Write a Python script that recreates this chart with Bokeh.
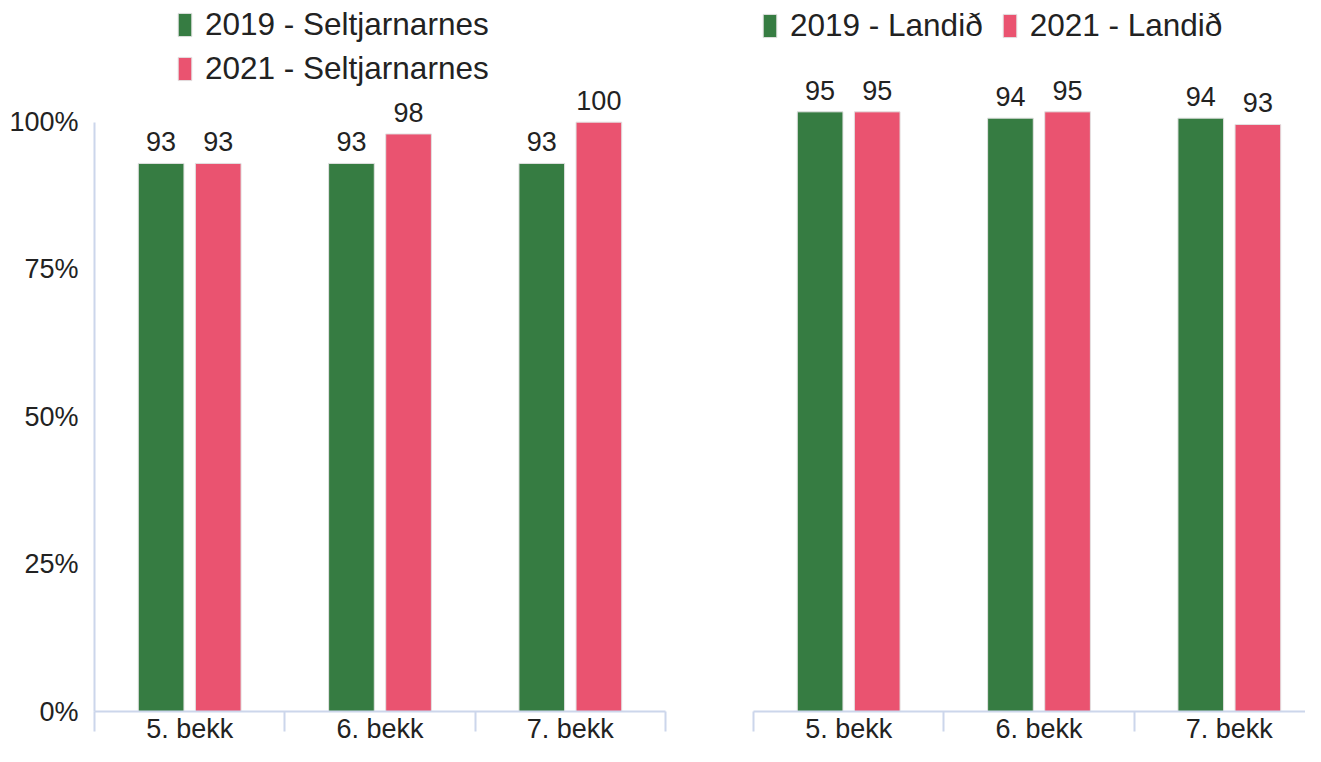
from bokeh.plotting import figure
from bokeh.models import (ColumnDataSource, Range1d, FixedTicker, LabelSet,
                          Legend, LegendItem)
from bokeh.core.properties import value
from bokeh.layouts import row
from bokeh.embed import file_html
from bokeh.resources import INLINE

# ---- data ----
categories = ["5. bekk", "6. bekk", "7. bekk"]
sel_2019 = [93, 93, 93]
sel_2021 = [93, 98, 100]
land_2019 = [95, 94, 94]
land_2021 = [95, 95, 93]
legend_left = ["2019 - Seltjarnarnes", "2021 - Seltjarnarnes"]
legend_right = ["2019 - Landið", "2021 - Landið"]
y_ticks = [0, 25, 50, 75, 100]
y_tick_labels = ["0%", "25%", "50%", "75%", "100%"]

GREEN = "#367C42"
RED = "#EA5370"
AXIS = "#ccd6eb"
TEXT = "#222222"
FONT = "Liberation Sans"
H = 746
BORDER_BOTTOM = 33
B = H - BORDER_BOTTOM          # frame bottom (screen px); frame top is 0
LEFT_TOP100 = 122               # where 100% sits in the left panel
RIGHT_TOP100 = 80               # where 100% sits in the right panel
CAT_PX = 571 / 3.0


def make_panel(width, border_left, x_end, top100, v2019, v2021, labels,
               show_y, legend_vertical, legend_loc):
    y_end = 100.0 * B / (B - top100)
    p = figure(width=width, height=H, output_backend="svg",
               toolbar_location=None, x_range=Range1d(0, x_end),
               y_range=Range1d(0, y_end),
               y_axis_location="left" if show_y else None,
               min_border_left=border_left,
               min_border_right=width - border_left - int(round(x_end * CAT_PX)),
               min_border_top=0, min_border_bottom=BORDER_BOTTOM)
    p.outline_line_color = None
    p.grid.visible = False
    p.background_fill_color = "white"
    p.border_fill_color = "white"

    centers = [i + 0.5 for i in range(len(categories))]
    src = ColumnDataSource(dict(
        x19=[c - 0.15 for c in centers], x21=[c + 0.15 for c in centers],
        v19=v2019, v21=v2021,
        t19=[str(v) for v in v2019], t21=[str(v) for v in v2021]))
    r1 = p.vbar(x="x19", top="v19", width=0.24, bottom=0, source=src,
                fill_color=GREEN, line_color="#e2e2e2", line_width=1)
    r2 = p.vbar(x="x21", top="v21", width=0.24, bottom=0, source=src,
                fill_color=RED, line_color="#e2e2e2", line_width=1)

    for xc, yc, tc in (("x19", "v19", "t19"), ("x21", "v21", "t21")):
        p.add_layout(LabelSet(x=xc, y=yc, text=tc, source=src, y_offset=12,
                              text_align="center", text_baseline="alphabetic",
                              text_font=value(FONT), text_font_size="27px",
                              text_color=TEXT))

    # x axis: labels at centres, category separators as minor ticks
    xa = p.xaxis[0]
    xa.ticker = FixedTicker(ticks=centers, minor_ticks=[0, 1, 2, 3])
    xa.major_label_overrides = {c: lab for c, lab in zip(centers, categories)}
    xa.major_tick_line_color = None
    xa.major_tick_out = 0
    xa.major_tick_in = 0
    xa.minor_tick_line_color = AXIS
    xa.minor_tick_line_width = 2
    xa.minor_tick_out = 20
    xa.minor_tick_in = 0
    xa.axis_line_color = AXIS
    xa.axis_line_width = 2
    xa.major_label_standoff = -18
    xa.major_label_text_font = FONT
    xa.major_label_text_font_size = "27px"
    xa.major_label_text_color = TEXT

    if show_y:
        ya = p.yaxis[0]
        ya.ticker = FixedTicker(ticks=y_ticks)
        ya.bounds = (0, 100)
        ya.major_label_overrides = {t: l for t, l in zip(y_ticks, y_tick_labels)}
        ya.major_tick_line_color = None
        ya.major_tick_out = 0
        ya.major_tick_in = 0
        ya.minor_tick_line_color = None
        ya.axis_line_color = AXIS
        ya.axis_line_width = 2
        ya.major_label_standoff = 16
        ya.major_label_text_font = FONT
        ya.major_label_text_font_size = "27px"
        ya.major_label_text_color = TEXT

    legend = Legend(items=[LegendItem(label=labels[0], renderers=[r1]),
                           LegendItem(label=labels[1], renderers=[r2])],
                    orientation="vertical" if legend_vertical else "horizontal",
                    location=legend_loc, padding=0, margin=0,
                    border_line_color=None, background_fill_alpha=0,
                    glyph_width=17, glyph_height=29, label_standoff=12,
                    spacing=7 if legend_vertical else 18,
                    label_text_font=FONT, label_text_font_size="31.5px",
                    label_text_color=TEXT)
    p.add_layout(legend, "center")
    return p


left = make_panel(700, 94, 3.0, LEFT_TOP100, sel_2019, sel_2021, legend_left,
                  True, True, (82, B - 89))
right = make_panel(605, 53, 552 / CAT_PX, RIGHT_TOP100, land_2019, land_2021,
                   legend_right, False, False, (8, B - 46))

layout = row(left, right)
open("out.html", "w").write(file_html(layout, INLINE))
